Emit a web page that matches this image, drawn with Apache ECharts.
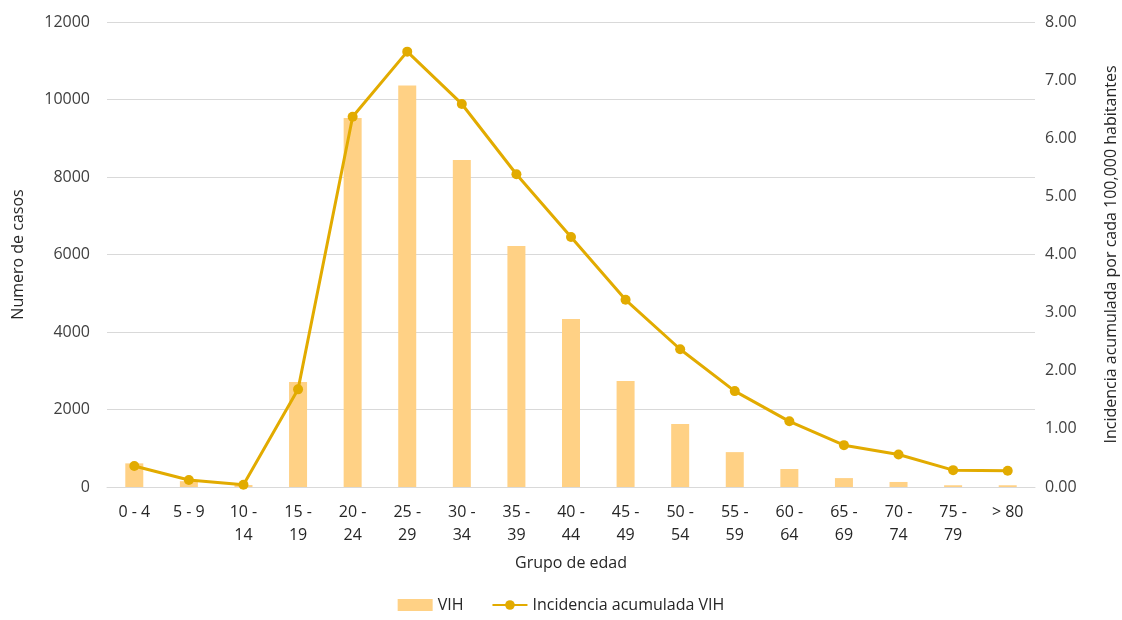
<!DOCTYPE html>
<html><head><meta charset="utf-8">
<script src="https://cdn.jsdelivr.net/npm/echarts@6/dist/echarts.min.js"></script>
<style>html,body{margin:0;padding:0;background:#fff}#c{width:1122px;height:620px}</style>
</head><body><div id="c"></div>
<script>
var categories = ['0 - 4','5 - 9','10 -\n14','15 -\n19','20 -\n24','25 -\n29','30 -\n34','35 -\n39','40 -\n44','45 -\n49','50 -\n54','55 -\n59','60 -\n64','65 -\n69','70 -\n74','75 -\n79','> 80'];
var casos = [610, 150, 50, 2710, 9520, 10360, 8440, 6220, 4335, 2735, 1625, 900, 465, 230, 130, 45, 45];
var incidencia = [0.36, 0.12, 0.04, 1.68, 6.37, 7.49, 6.59, 5.38, 4.30, 3.22, 2.37, 1.65, 1.13, 0.72, 0.56, 0.29, 0.28];

var font = '"Open Sans", "Noto Sans", sans-serif';
var txt = '#404040';
var chart = echarts.init(document.getElementById('c'));
chart.setOption({
  animation: false,
  textStyle: {fontFamily: font},
  grid: {left: 107, right: 87, top: 22, bottom: 133, containLabel: false, outerBoundsMode: 'none'},
  legend: {
    bottom: 2, left: 'center', itemGap: 28, itemWidth: 35, itemHeight: 12,
    textStyle: {fontSize: 16, color: '#262626', fontFamily: font},
    data: [{name: 'VIH', icon: 'rect'}, {name: 'Incidencia acumulada VIH'}]
  },
  xAxis: {
    type: 'category', data: categories,
    name: 'Grupo de edad', nameLocation: 'middle', nameGap: 68,
    nameTextStyle: {fontSize: 16, color: '#262626', fontFamily: font},
    axisLine: {lineStyle: {color: '#d9d9d9'}},
    axisTick: {show: false},
    axisLabel: {fontSize: 16, color: '#262626', margin: 14, lineHeight: 23, interval: 0, fontFamily: font}
  },
  yAxis: [{
    type: 'value', min: 0, max: 12000, interval: 2000,
    name: 'Numero de casos', nameLocation: 'middle', nameGap: 81, nameRotate: 90,
    nameTextStyle: {fontSize: 16, color: '#262626', fontFamily: font},
    axisLabel: {fontSize: 16, color: txt, margin: 17, fontFamily: font, formatter: function(v){return String(v);}},
    splitLine: {lineStyle: {color: '#d9d9d9'}},
    axisLine: {show: false}, axisTick: {show: false}
  }, {
    type: 'value', min: 0, max: 8, interval: 1,
    name: 'Incidencia acumulada por cada 100,000 habitantes', nameLocation: 'middle', nameGap: 68, nameRotate: 90,
    nameTextStyle: {fontSize: 16, color: '#262626', fontFamily: font},
    axisLabel: {fontSize: 16, color: txt, margin: 10, fontFamily: font, formatter: function(v){return v.toFixed(2);}},
    splitLine: {show: false},
    axisLine: {show: false}, axisTick: {show: false}
  }],
  series: [{
    name: 'VIH', type: 'bar', data: casos, barWidth: 18,
    itemStyle: {color: '#FFD185'}
  }, {
    name: 'Incidencia acumulada VIH', type: 'line', yAxisIndex: 1, data: incidencia,
    symbol: 'circle', symbolSize: 10,
    lineStyle: {color: '#E2AB00', width: 3},
    itemStyle: {color: '#E2AB00'}
  }]
});
</script></body></html>
